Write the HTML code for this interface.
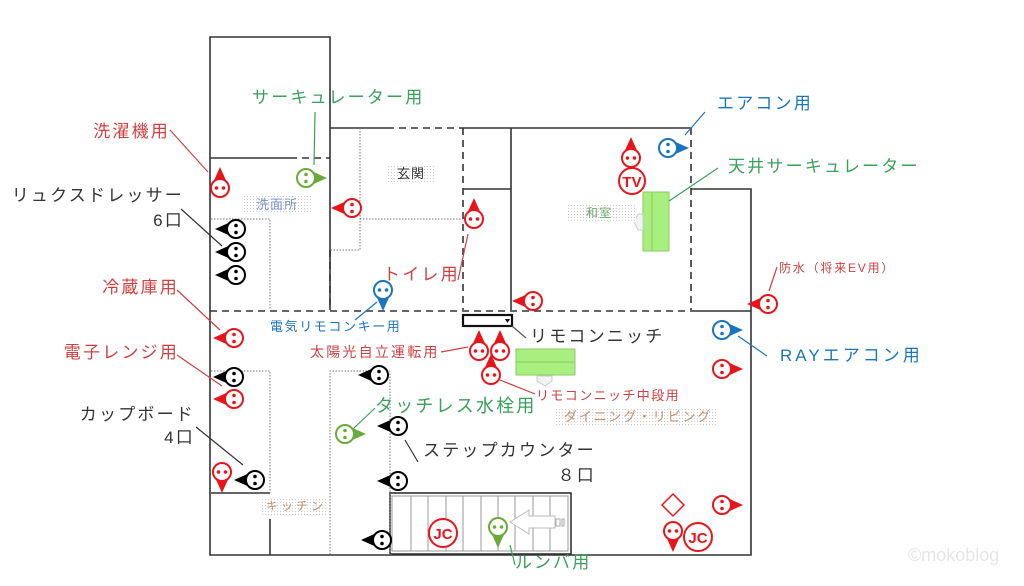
<!DOCTYPE html>
<html><head><meta charset="utf-8"><style>
html,body{margin:0;padding:0;background:#fff;}
svg{display:block;font-family:"Liberation Sans","Noto Sans CJK JP",sans-serif;}
</style></head><body>
<svg width="1024" height="586" viewBox="0 0 1024 586" xmlns="http://www.w3.org/2000/svg">
<defs>
<g id="o"><path d="M2,-8.5 L21,0 L2,8.5Z" fill="currentColor"/><circle r="9" fill="#fff" stroke="currentColor" stroke-width="2"/><circle cx="0" cy="-3.5" r="1.8" fill="currentColor"/><circle cx="0" cy="3.5" r="1.8" fill="currentColor"/></g>
<pattern id="dots" width="3" height="3" patternUnits="userSpaceOnUse"><rect width="3" height="3" fill="#fff"/><circle cx="1.5" cy="1.5" r="0.6" fill="#ccc"/></pattern>
</defs>
<rect width="1024" height="586" fill="#fff"/>
<g stroke="#333" stroke-width="1.6" fill="none">
<path d="M210,310 L210,37 L330,37 L330,310"/>
<path d="M210,158 L290,158"/>
<path d="M290,158 L330,158" stroke-dasharray="7,5"/>
<path d="M330,128 L387,128"/>
<path d="M387,128 L463,128" stroke-dasharray="7,5"/>
<path d="M463,128 L691,128"/>
<path d="M463,128 L463,310" stroke-dasharray="7,5"/>
<path d="M511,128 L511,310"/>
<path d="M463,189 L511,189"/>
<path d="M691,128 L691,310" stroke-dasharray="7,5"/>
<path d="M691,189 L751,189 L751,555 L210,555 L210,310"/>
<path d="M210,311 L691,311" stroke-dasharray="7,5"/>
<path d="M691,311 L751,311"/>
<path d="M330,250 L330,310" stroke-dasharray="7,5"/>
<path d="M211,493 L270,493 M270,519 L270,555"/>
<rect x="390" y="493" width="181" height="61"/>
</g>
<g stroke="#777" stroke-width="1" fill="none" stroke-dasharray="1.5,1.5">
<path d="M211,219 L270,219 L270,310"/>
<path d="M360,128 L360,250 L330,250"/>
<path d="M360,219 L463,219"/>
<path d="M211,371 L270,371 L270,493"/>
<path d="M390,555 L390,371 L330,371 L330,555"/>
</g>
<g stroke="#999" stroke-width="1">
<rect x="392" y="496" width="176" height="55" fill="none"/>
<path d="M411,496V551M428,496V551M446,496V551M463,496V551M481,496V551M498,496V551M515,496V551M533,496V551M550,496V551"/>
</g>
<path d="M510,522 L529,510 L529,516 L555,516 L555,528 L529,528 L529,534Z" fill="#fff" stroke="#bbb"/>
<rect x="556" y="519" width="4" height="7" fill="none" stroke="#aaa"/><rect x="562" y="519" width="2" height="7" fill="none" stroke="#aaa"/>
<rect x="463" y="315" width="49" height="11" fill="#fff" stroke="#111" stroke-width="2.2"/>
<path d="M505,319 L510,319 L507.5,323Z" fill="#111"/>
<rect x="516" y="349" width="59" height="26" fill="#a9ef7f" stroke="#8cc86a"/>
<path d="M516,362 L575,362" stroke="#8cc86a"/>
<path d="M537,376 L552,376 L552,381 L545,386 L537,381Z" fill="#f3f3f3" stroke="#ccc"/>
<rect x="643" y="192" width="26" height="59" fill="#a9ef7f" stroke="#8cc86a"/>
<path d="M652,192 L652,251" stroke="#8cc86a"/>
<path d="M643,214 L643,230 L638,230 L634,222 L638,214Z" fill="#f3f3f3" stroke="#ccc"/>
<rect x="242" y="196" width="70" height="18" fill="url(#dots)"/>
<text x="256" y="209" font-size="13" fill="#7c95c8" letter-spacing="1">洗面所</text>
<rect x="388" y="165" width="46" height="18" fill="url(#dots)"/>
<text x="397" y="178" font-size="13" fill="#333" letter-spacing="1">玄関</text>
<rect x="566" y="204" width="70" height="18" fill="url(#dots)"/>
<text x="586" y="217" font-size="12" fill="#6aaa6a" letter-spacing="1">和室</text>
<rect x="556" y="408" width="160" height="18" fill="url(#dots)"/>
<text x="564" y="421" font-size="13" fill="#c8906a" letter-spacing="1.8">ダイニング・リビング</text>
<rect x="262" y="497" width="66" height="18" fill="url(#dots)"/>
<text x="266" y="510" font-size="12" fill="#c8906a" letter-spacing="3">キッチン</text>
<g stroke-width="1.2" fill="none">
<path d="M315,112 L314,165" stroke="#3aa05a"/>
<path d="M170,130 L208,172" stroke="#d04040"/>
<path d="M181,209 L222,246" stroke="#333"/>
<path d="M177,290 L220,330" stroke="#d04040"/>
<path d="M177,355 L222,386" stroke="#d04040"/>
<path d="M196,427 L243,465" stroke="#333"/>
<path d="M468,234 L458,280" stroke="#d04040"/>
<path d="M355,320 L377,302" stroke="#1a75bc"/>
<path d="M512,326 L526,338" stroke="#555"/>
<path d="M441,352 L468,347" stroke="#d04040"/>
<path d="M500,380 L535,394" stroke="#d04040"/>
<path d="M352,430 L375,408" stroke="#3aa05a"/>
<path d="M405,440 L418,462" stroke="#333"/>
<path d="M510,545 L515,565" stroke="#3aa05a"/>
<path d="M685,135 L705,112" stroke="#1a75bc"/>
<path d="M669,201 L718,168" stroke="#3aa05a"/>
<path d="M769,291 L777,267" stroke="#d04040"/>
<path d="M738,336 L767,356" stroke="#1a75bc"/>
</g>
<g>
<use href="#o" transform="translate(220,188) rotate(-90)" color="#e8141b"/>
<use href="#o" transform="translate(306,178)" color="#6aaa3a"/>
<use href="#o" transform="translate(352,208) rotate(180)" color="#e8141b"/>
<use href="#o" transform="translate(236,229) rotate(180)" color="#000"/>
<use href="#o" transform="translate(236,252) rotate(180)" color="#000"/>
<use href="#o" transform="translate(236,275) rotate(180)" color="#000"/>
<use href="#o" transform="translate(474,219) rotate(-90)" color="#e8141b"/>
<use href="#o" transform="translate(383,290) rotate(90)" color="#1a75bc"/>
<use href="#o" transform="translate(631,158) rotate(-90)" color="#e8141b"/>
<use href="#o" transform="translate(668,148)" color="#1a75bc"/>
<use href="#o" transform="translate(533,301) rotate(180)" color="#e8141b"/>
<use href="#o" transform="translate(768,304) rotate(180)" color="#e8141b"/>
<use href="#o" transform="translate(722,330)" color="#1a75bc"/>
<use href="#o" transform="translate(722,369)" color="#e8141b"/>
<use href="#o" transform="translate(722,505)" color="#e8141b"/>
<use href="#o" transform="translate(673,531) rotate(90)" color="#e8141b"/>
<use href="#o" transform="translate(234,338) rotate(180)" color="#e8141b"/>
<use href="#o" transform="translate(234,377) rotate(180)" color="#000"/>
<use href="#o" transform="translate(234,399) rotate(180)" color="#e8141b"/>
<use href="#o" transform="translate(222,472) rotate(90)" color="#e8141b"/>
<use href="#o" transform="translate(255,480) rotate(180)" color="#000"/>
<use href="#o" transform="translate(479,351) rotate(-90)" color="#e8141b"/>
<use href="#o" transform="translate(500,351) rotate(-90)" color="#e8141b"/>
<use href="#o" transform="translate(491,375) rotate(-90)" color="#e8141b"/>
<use href="#o" transform="translate(379,375) rotate(180)" color="#000"/>
<use href="#o" transform="translate(345,434)" color="#6aaa3a"/>
<use href="#o" transform="translate(398,426) rotate(180)" color="#000"/>
<use href="#o" transform="translate(398,481) rotate(180)" color="#000"/>
<use href="#o" transform="translate(382,540) rotate(180)" color="#000"/>
<use href="#o" transform="translate(498,527) rotate(90)" color="#6aaa3a"/>
</g>
<path d="M673,494 L684,505 L673,516 L662,505Z" fill="#fff" stroke="#e8141b" stroke-width="1.5"/>
<g fill="#fff" stroke="#e8141b" stroke-width="2">
<circle cx="632" cy="181" r="13"/><circle cx="698" cy="537" r="14"/><circle cx="443" cy="533" r="14"/>
</g>
<g font-size="15" font-weight="bold" fill="#e8141b" text-anchor="middle">
<text x="632" y="187">TV</text><text x="698" y="543">JC</text><text x="443" y="539">JC</text>
</g>
<g font-size="17" letter-spacing="2.2">
<text x="252" y="103" fill="#3aa05a">サーキュレーター用</text>
<text x="170" y="137" fill="#d04040" text-anchor="end">洗濯機用</text>
<text x="184" y="201" fill="#333" text-anchor="end">リュクスドレッサー</text>
<text x="184" y="226" fill="#333" text-anchor="end">6口</text>
<text x="179" y="293" fill="#d04040" text-anchor="end">冷蔵庫用</text>
<text x="179" y="358" fill="#d04040" text-anchor="end">電子レンジ用</text>
<text x="195" y="420" fill="#333" text-anchor="end">カップボード</text>
<text x="195" y="443" fill="#333" text-anchor="end">4口</text>
<text x="383" y="280" fill="#d04040">トイレ用</text>
<text x="530" y="342" fill="#333">リモコンニッチ</text>
<text x="375" y="412" fill="#3aa05a" font-size="18">タッチレス水栓用</text>
<text x="423" y="456" fill="#333">ステップカウンター</text>
<text x="596" y="481" fill="#333" text-anchor="end">８口</text>
<text x="515" y="568" fill="#3aa05a">ルンバ用</text>
<text x="717" y="109" fill="#1a75bc">エアコン用</text>
<text x="728" y="172" fill="#3aa05a">天井サーキュレーター</text>
<text x="780" y="361" fill="#1a75bc" letter-spacing="3">RAYエアコン用</text>
</g>
<text x="270" y="331" font-size="13" fill="#1a75bc" letter-spacing="1.6">電気リモコンキー用</text>
<text x="310" y="357" font-size="14" fill="#d04040" letter-spacing="2.2">太陽光自立運転用</text>
<text x="536" y="400" font-size="13" fill="#d04040" letter-spacing="1.4">リモコンニッチ中段用</text>
<text x="779" y="272" font-size="12" fill="#d04040" letter-spacing="1.8">防水（将来EV用）</text>
<text x="908" y="561" font-size="18" fill="#e6e6e6">©mokoblog</text>
</svg>
</body></html>
